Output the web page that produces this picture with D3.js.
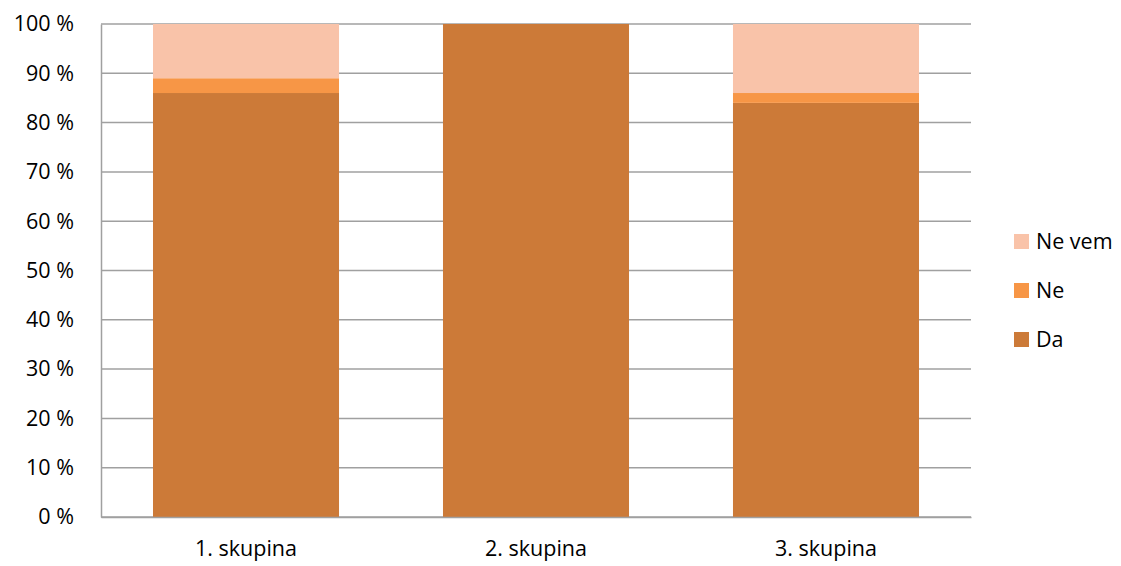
<!DOCTYPE html>
<html>
<head>
<meta charset="utf-8">
<script src="https://cdn.jsdelivr.net/npm/d3@7"></script>
<style>
  html, body { margin: 0; padding: 0; background: #fff; }
  svg { display: block; font-family: "Open Sans", Carlito, Calibri, sans-serif; }
</style>
</head>
<body>
<svg id="chart" width="1121" height="566"></svg>
<script>
// Categories and stacked shares (percent)
const categories = ["1. skupina", "2. skupina", "3. skupina"];
const seriesNames = ["Da", "Ne", "Ne vem"];
const da    = [86, 100, 84];
const ne    = [3, 0, 2];
const neVem = [11, 0, 14];
const yTicks = [0, 10, 20, 30, 40, 50, 60, 70, 80, 90, 100];
const colors = { "Da": "#CC7A38", "Ne": "#F79646", "Ne vem": "#F9C3A9" };

const rows = categories.map((c, i) => ({ cat: c, "Da": da[i], "Ne": ne[i], "Ne vem": neVem[i] }));

const svg = d3.select("#chart");
const margin = { left: 101, top: 24, right: 150, bottom: 49 };
const W = 1121, H = 566;
const x0 = margin.left, x1 = W - margin.right, y0 = H - margin.bottom, y1 = margin.top;
const fontFamily = '"Open Sans", Carlito, Calibri, sans-serif';

const x = d3.scaleBand().domain(categories).range([x0, x1]).paddingInner(0.3585).paddingOuter(0.1793);
const y = d3.scaleLinear().domain([0, 100]).range([y0, y1]);

// Horizontal gridlines
svg.append("g").selectAll("line").data(yTicks).join("line")
  .attr("x1", x0).attr("x2", x1)
  .attr("y1", d => y(d)).attr("y2", d => y(d))
  .attr("stroke", "#A0A0A0").attr("stroke-width", 1.5);

// Stacked bars
const stack = d3.stack().keys(seriesNames)(rows);
svg.append("g").selectAll("g").data(stack).join("g")
  .attr("fill", s => colors[s.key])
  .selectAll("rect").data(s => s).join("rect")
  .attr("x", d => x(d.data.cat))
  .attr("width", x.bandwidth())
  .attr("y", d => y(d[1]))
  .attr("height", d => y(d[0]) - y(d[1]));

// Y axis
const yAxis = d3.axisLeft(y).tickValues(yTicks).tickSize(0).tickPadding(27)
  .tickFormat(d => d + " %");
const gy = svg.append("g").attr("transform", `translate(${x0},0)`).call(yAxis);
gy.select(".domain").attr("stroke", "#A0A0A0").attr("stroke-width", 1.5);
gy.selectAll("text").attr("font-size", 21.5).attr("fill", "#000")
  .attr("font-family", fontFamily);

// X axis
const xAxis = d3.axisBottom(x).tickSize(0).tickPadding(24);
const gx = svg.append("g").attr("transform", `translate(0,${y0})`).call(xAxis);
gx.select(".domain").attr("stroke", "#A0A0A0").attr("stroke-width", 1.5);
gx.selectAll("text").attr("font-size", 21.5).attr("fill", "#000")
  .attr("font-family", fontFamily);

// Legend
const legendItems = seriesNames.slice().reverse();
const lg = svg.append("g").selectAll("g").data(legendItems).join("g")
  .attr("transform", (d, i) => `translate(1014,${234 + i * 49})`);
lg.append("rect").attr("width", 15).attr("height", 15).attr("fill", d => colors[d]);
lg.append("text").attr("x", 22).attr("y", 7.5).attr("dy", "0.35em")
  .attr("font-size", 21.5).attr("fill", "#000").attr("font-family", fontFamily).text(d => d);
</script>
</body>
</html>
